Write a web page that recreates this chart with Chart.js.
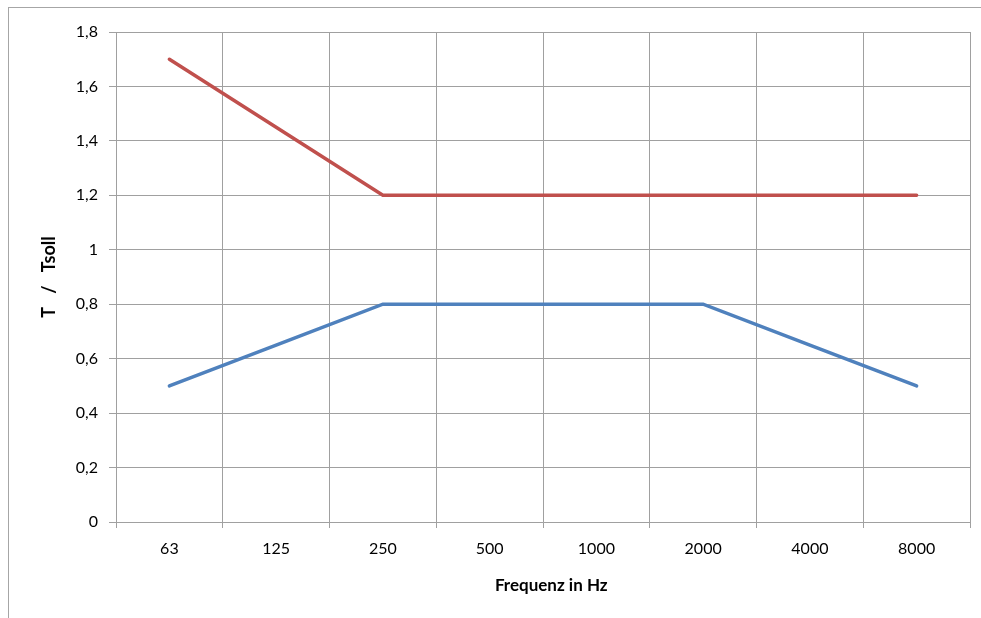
<!DOCTYPE html>
<html>
<head>
<meta charset="utf-8">
<script src="https://cdn.jsdelivr.net/npm/chart.js@4/dist/chart.umd.min.js"></script>
<style>
 html, body { margin:0; padding:0; background:#fff; overflow:hidden; }
 #frame { position:absolute; left:8px; top:7px; width:1100px; height:800px; border:1px solid #a6a6a6; }
 #c { position:absolute; left:0; top:0; }
</style>
</head>
<body>
<div id="frame"></div>
<canvas id="c" width="981" height="618"></canvas>
<script>
// Frequenzbänder und Grenzen T / Tsoll
const frequencies = ["63", "125", "250", "500", "1000", "2000", "4000", "8000"];
const upperLimit = [1.7, 1.45, 1.2, 1.2, 1.2, 1.2, 1.2, 1.2];
const lowerLimit = [0.5, 0.65, 0.8, 0.8, 0.8, 0.8, 0.65, 0.5];
const yTicks = [0, 0.2, 0.4, 0.6, 0.8, 1, 1.2, 1.4, 1.6, 1.8];

const gridColor = "#a0a0a0";
const fontFamily = "Lato, 'Liberation Sans', sans-serif";

const ctx = document.getElementById("c").getContext("2d");
new Chart(ctx, {
 type: "line",
 data: {
  labels: frequencies,
  datasets: [
   {
    label: "Obergrenze",
    data: upperLimit,
    borderColor: "#c0504d",
    borderWidth: 3.5,
    borderCapStyle: "round",
    pointRadius: 0,
    tension: 0
   },
   {
    label: "Untergrenze",
    data: lowerLimit,
    borderColor: "#4f81bd",
    borderWidth: 3.5,
    borderCapStyle: "round",
    pointRadius: 0,
    tension: 0
   }
  ]
 },
 options: {
  responsive: false,
  animation: false,
  devicePixelRatio: 1,
  layout: { padding: { top: 32, right: 11, left: 0, bottom: 0 } },
  plugins: {
   legend: { display: false },
   tooltip: { enabled: false }
  },
  scales: {
   x: {
    type: "category",
    offset: true,
    grid: { offset: true, color: gridColor, tickLength: 6, lineWidth: 1 },
    border: { color: gridColor },
    ticks: { color: "#000", padding: 11, font: { family: fontFamily, size: 16 } },
    title: {
     display: true,
     text: "    Frequenz in Hz",
     color: "#000",
     font: { family: fontFamily, size: 17, weight: "bold" },
     padding: { top: 0, bottom: 22 }
    },
    afterFit: function(scale){ scale.height = 96; }
   },
   y: {
    min: 0,
    max: 1.8,
    afterBuildTicks: function(scale){ scale.ticks = yTicks.map(v => ({ value: v })); },
    grid: { color: gridColor, tickLength: 7, lineWidth: 1 },
    border: { color: gridColor },
    ticks: {
     color: "#000",
     padding: 11,
     font: { family: fontFamily, size: 16 },
     callback: function(v){ return String(Math.round(v * 10) / 10).replace(".", ","); }
    },
    title: {
     display: true,
     text: "T   /   Tsoll",
     color: "#000",
     font: { family: fontFamily, size: 18, weight: "bold" },
     padding: { top: 38, bottom: 0 }
    },
    afterFit: function(scale){ scale.width = 116; }
   }
  }
 }
});
</script>
</body>
</html>
